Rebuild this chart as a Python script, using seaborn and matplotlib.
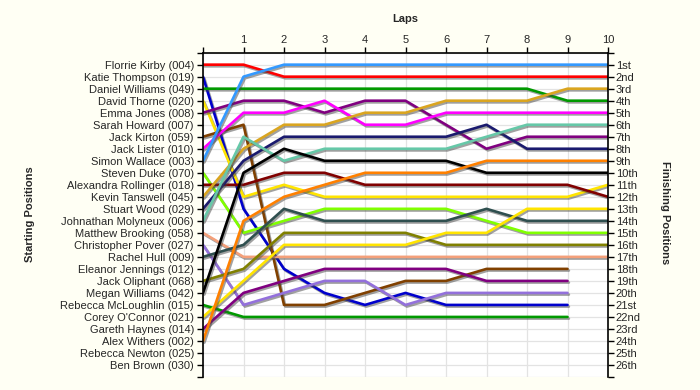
import pandas as pd
import matplotlib
matplotlib.use("Agg")
import matplotlib.pyplot as plt
import matplotlib.patheffects as pe
import seaborn as sns

# starting grid (top to bottom)
starters = ["Florrie Kirby (004)", "Katie Thompson (019)", "Daniel Williams (049)",
            "David Thorne (020)", "Emma Jones (008)", "Sarah Howard (007)",
            "Jack Kirton (059)", "Jack Lister (010)", "Simon Wallace (003)",
            "Steven Duke (070)", "Alexandra Rollinger (018)", "Kevin Tanswell (045)",
            "Stuart Wood (029)", "Johnathan Molyneux (006)", "Matthew Brooking (058)",
            "Christopher Pover (027)", "Rachel Hull (009)", "Eleanor Jennings (012)",
            "Jack Oliphant (068)", "Megan Williams (042)", "Rebecca McLoughlin (015)",
            "Corey O'Connor (021)", "Gareth Haynes (014)", "Alex Withers (002)",
            "Rebecca Newton (025)", "Ben Brown (030)"]

finish_labels = ["1st", "2nd", "3rd", "4th", "5th", "6th", "7th", "8th", "9th", "10th",
                 "11th", "12th", "13th", "14th", "15th", "16th", "17th", "18th", "19th",
                 "20th", "21st", "22nd", "23rd", "24th", "25th", "26th"]

lap_labels = ["", "1", "2", "3", "4", "5", "6", "7", "8", "9", "10"]

# position at each lap (lap 0 = grid)
florrie = [1, 1, 2, 2, 2, 2, 2, 2, 2, 2, 2]
katie = [2, 13, 18, 20, 21, 20, 21, 21, 21, 21]
daniel = [3, 3, 3, 3, 3, 3, 3, 3, 3, 4, 4]
david = [4, 12, 11, 12, 12, 12, 12, 12, 12, 12, 11]
emma = [5, 4, 4, 5, 4, 4, 6, 8, 7, 7, 7]
jack_kirton = [7, 6, 21, 21, 20, 19, 19, 18, 18, 18]
jack_lister = [8, 5, 5, 4, 6, 6, 5, 5, 5, 5, 5]
simon = [9, 2, 1, 1, 1, 1, 1, 1, 1, 1, 1]
steven = [10, 15, 14, 13, 13, 13, 13, 14, 15, 15, 15]
alexandra = [11, 11, 10, 10, 11, 11, 11, 11, 11, 11, 12]
kevin = [12, 8, 6, 6, 5, 5, 4, 4, 4, 3, 3]
stuart = [13, 9, 7, 7, 7, 7, 7, 6, 8, 8, 8]
johnathan = [14, 7, 9, 8, 8, 8, 8, 7, 6, 6, 6]
matthew = [15, 17, 17, 17, 17, 17, 17, 17, 17, 17, 17]
christopher = [16, 21, 20, 19, 19, 21, 20, 20, 20, 20]
rachel = [17, 16, 13, 14, 14, 14, 14, 13, 14, 14, 14]
jack_oliphant = [19, 18, 15, 15, 15, 15, 16, 16, 16, 16, 16]
megan = [20, 10, 8, 9, 9, 9, 9, 10, 10, 10, 10]
rebecca_mcl = [21, 22, 22, 22, 22, 22, 22, 22, 22, 22]
corey = [22, 19, 16, 16, 16, 16, 15, 15, 13, 13, 13]
gareth = [23, 20, 19, 18, 18, 18, 18, 19, 19, 19]
alex = [24, 14, 12, 11, 10, 10, 10, 9, 9, 9, 9]

runs = {
    "Florrie Kirby (004)": (florrie, "#FF0000"),
    "Katie Thompson (019)": (katie, "#0000CC"),
    "Daniel Williams (049)": (daniel, "#009900"),
    "David Thorne (020)": (david, "#FFE400"),
    "Emma Jones (008)": (emma, "#800080"),
    "Jack Kirton (059)": (jack_kirton, "#804000"),
    "Jack Lister (010)": (jack_lister, "#FF00FF"),
    "Simon Wallace (003)": (simon, "#3399FF"),
    "Steven Duke (070)": (steven, "#80FF00"),
    "Alexandra Rollinger (018)": (alexandra, "#800000"),
    "Kevin Tanswell (045)": (kevin, "#DAA520"),
    "Stuart Wood (029)": (stuart, "#1A1A6E"),
    "Johnathan Molyneux (006)": (johnathan, "#66C8A8"),
    "Matthew Brooking (058)": (matthew, "#F4A07A"),
    "Christopher Pover (027)": (christopher, "#9370DB"),
    "Rachel Hull (009)": (rachel, "#2F4F4F"),
    "Jack Oliphant (068)": (jack_oliphant, "#808000"),
    "Megan Williams (042)": (megan, "#000000"),
    "Rebecca McLoughlin (015)": (rebecca_mcl, "#009900"),
    "Corey O'Connor (021)": (corey, "#FFE400"),
    "Gareth Haynes (014)": (gareth, "#800080"),
    "Alex Withers (002)": (alex, "#FF8000"),
}

rows = []
for name, (pos, col) in runs.items():
    for lap, p in enumerate(pos):
        rows.append({"driver": name, "lap": lap, "pos": p})
df = pd.DataFrame(rows)
palette = {name: col for name, (pos, col) in runs.items()}

sns.set_style("whitegrid")
plt.rcParams["font.family"] = ["Liberation Sans", "DejaVu Sans"]

bg = "#FFFFF4"
fig, ax = plt.subplots(figsize=(7, 3.9), dpi=100, facecolor=bg)
fig.subplots_adjust(left=0.29, right=0.8686, top=0.865, bottom=0.0333)
ax.set_facecolor("white")

sns.lineplot(data=df, x="lap", y="pos", hue="driver", palette=palette,
             estimator=None, sort=False, legend=False, lw=1.9, ax=ax)
for line in ax.lines:
    line.set_path_effects([pe.SimpleLineShadow(offset=(1, -1.2), shadow_color="#444444", alpha=0.5),
                           pe.Normal()])

ax.set_xlim(0, 10)
ax.set_ylim(27, 0)
ax.xaxis.tick_top()
ax.set_xticks(range(11))
ax.set_xticklabels(lap_labels)
ax.set_yticks(range(28))
ax.set_yticklabels([""] + starters + [""])
ax.set_xlabel("")
ax.set_ylabel("")
ax.grid(True, color="#E3E3E3", lw=0.9)

ax2 = ax.twinx()
ax2.set_ylim(27, 0)
ax2.set_yticks(range(28))
ax2.set_yticklabels([""] + finish_labels + [""])
ax2.grid(False)

for a in (ax, ax2):
    for side in ("left", "right", "top", "bottom"):
        a.spines[side].set_visible(False)
    a.tick_params(direction="out", length=4, width=1, color="black", labelsize=8, pad=2.5)
ax.spines["left"].set_visible(True)
ax.spines["top"].set_visible(True)
ax2.spines["right"].set_visible(True)
for s in (ax.spines["left"], ax.spines["top"], ax2.spines["right"]):
    s.set_color("black")
    s.set_linewidth(1.2)
ax.tick_params(axis="x", top=True, bottom=False, labeltop=True, labelbottom=False, pad=1.5)
ax2.tick_params(axis="y", pad=1.5)

fig.text(405 / 700, 1 - 19 / 390, "Laps", ha="center", va="center", fontsize=8, fontweight="bold")
fig.text(30 / 700, 1 - 214 / 390, "Starting Positions", ha="center", va="center",
         rotation=90, fontsize=8, fontweight="bold")
fig.text(665 / 700, 1 - 213 / 390, "Finishing Positions", ha="center", va="center",
         rotation=-90, fontsize=8, fontweight="bold")

fig.savefig("out.png", dpi=100, facecolor=bg)
